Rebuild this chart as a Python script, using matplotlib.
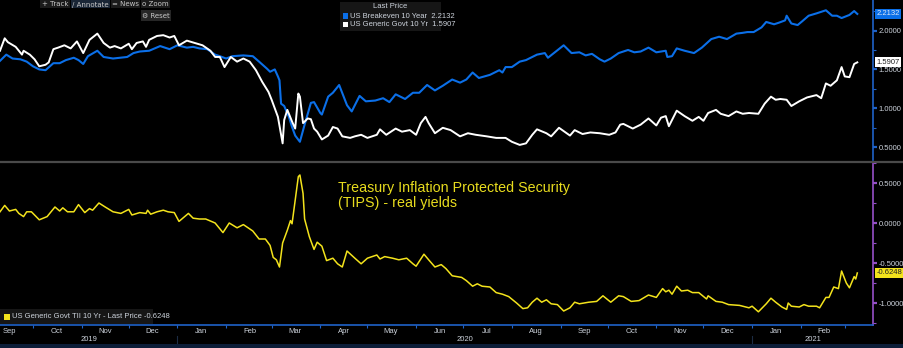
import matplotlib
matplotlib.use("Agg")
import matplotlib.pyplot as plt
import matplotlib.dates as mdates
import matplotlib.transforms as mtransforms
from matplotlib.ticker import MultipleLocator, NullFormatter, FormatStrFormatter, FuncFormatter
import pandas as pd

plt.rcParams['font.family'] = ['Liberation Sans Narrow', 'Liberation Sans', 'DejaVu Sans']

# series start date; day offsets below are counted from it
START = pd.Timestamp("2019-09-10")
END = pd.Timestamp("2021-03-19")

# US Breakeven 10 Year
BLUE_DAYS = [0, 4, 8, 13, 17, 21, 25, 29, 34, 38, 42, 47, 50, 53, 56, 62, 66, 72, 81, 85,
             89, 95, 102, 108, 113, 119, 123, 127, 132, 137, 140, 144, 148, 155, 161, 165, 170, 172, 175, 177,
             178, 179, 181, 184, 186, 188, 191, 194, 198, 200, 204, 205, 209, 212, 216, 221, 224, 229, 233, 239,
             244, 248, 252, 258, 263, 267, 272, 277, 282, 288, 293, 297, 301, 305, 312, 318, 320, 322, 326, 331,
             335, 342, 347, 349, 354, 359, 364, 369, 373, 377, 382, 385, 389, 394, 400, 404, 408, 413, 418, 424,
             425, 428, 431, 436, 442, 447, 453, 458, 463, 469, 473, 476, 480, 485, 488, 493, 496, 500, 501, 504,
             508, 511, 515, 520, 526, 530, 533, 536, 541, 544, 546]
BLUE_VALS = [1.61, 1.69, 1.64, 1.63, 1.60, 1.54, 1.50, 1.49, 1.58, 1.58, 1.62, 1.65, 1.62, 1.57, 1.67, 1.74, 1.66, 1.64, 1.66, 1.71,
             1.73, 1.74, 1.80, 1.76, 1.81, 1.78, 1.79, 1.77, 1.76, 1.69, 1.67, 1.64, 1.67, 1.68, 1.67, 1.60, 1.51, 1.47, 1.50, 1.41,
             1.36, 1.06, 1.03, 0.89, 0.76, 0.65, 0.57, 0.79, 1.07, 1.08, 0.94, 0.92, 1.15, 1.20, 1.30, 1.04, 0.96, 1.16, 1.09, 1.10,
             1.13, 1.08, 1.18, 1.12, 1.20, 1.20, 1.30, 1.23, 1.29, 1.37, 1.33, 1.37, 1.46, 1.39, 1.43, 1.49, 1.46, 1.53, 1.53, 1.60,
             1.62, 1.69, 1.71, 1.65, 1.73, 1.81, 1.71, 1.72, 1.68, 1.70, 1.63, 1.60, 1.64, 1.71, 1.75, 1.72, 1.73, 1.78, 1.72, 1.74,
             1.66, 1.67, 1.77, 1.74, 1.71, 1.78, 1.89, 1.92, 1.89, 1.96, 1.97, 1.98, 1.98, 2.04, 2.11, 2.08, 2.10, 2.13, 2.19, 2.09,
             2.07, 2.12, 2.19, 2.22, 2.26, 2.19, 2.19, 2.16, 2.20, 2.25, 2.2132]

# US Generic Govt 10 Yr
WHITE_DAYS = [0, 3, 5, 10, 14, 15, 19, 22, 25, 29, 31, 34, 37, 41, 45, 49, 53, 57, 62, 66,
              70, 73, 77, 82, 84, 87, 91, 93, 95, 100, 104, 108, 111, 114, 119, 124, 129, 134, 137, 140,
              143, 147, 151, 155, 159, 163, 167, 171, 173, 175, 177, 180, 181, 183, 186, 188, 190, 191, 193, 196,
              198, 200, 202, 205, 209, 212, 215, 218, 223, 226, 230, 234, 240, 242, 246, 252, 256, 261, 265, 268,
              271, 273, 277, 282, 287, 293, 298, 303, 310, 316, 322, 326, 331, 335, 339, 342, 348, 351, 356, 363,
              366, 371, 376, 382, 388, 392, 395, 397, 403, 408, 413, 418, 421, 424, 426, 431, 436, 441, 445, 448,
              451, 456, 459, 464, 469, 473, 477, 483, 487, 491, 494, 497, 501, 504, 509, 514, 520, 523, 526, 529,
              533, 536, 538, 541, 544, 546]
WHITE_VALS = [1.74, 1.90, 1.85, 1.79, 1.69, 1.74, 1.69, 1.63, 1.54, 1.56, 1.59, 1.76, 1.78, 1.81, 1.77, 1.86, 1.71, 1.88, 1.96, 1.84,
              1.78, 1.80, 1.77, 1.83, 1.76, 1.84, 1.86, 1.79, 1.88, 1.93, 1.94, 1.91, 1.93, 1.81, 1.87, 1.84, 1.81, 1.74, 1.66, 1.66,
              1.53, 1.66, 1.60, 1.64, 1.60, 1.49, 1.34, 1.21, 1.11, 1.00, 0.89, 0.55, 0.85, 0.98, 0.83, 0.74, 1.19, 1.15, 0.81, 0.87,
              0.86, 0.74, 0.70, 0.60, 0.65, 0.76, 0.74, 0.64, 0.62, 0.64, 0.66, 0.62, 0.66, 0.73, 0.66, 0.74, 0.70, 0.72, 0.66, 0.81,
              0.89, 0.81, 0.68, 0.75, 0.72, 0.64, 0.68, 0.66, 0.64, 0.62, 0.62, 0.57, 0.53, 0.55, 0.66, 0.73, 0.68, 0.64, 0.75, 0.65,
              0.72, 0.67, 0.69, 0.68, 0.66, 0.69, 0.79, 0.80, 0.74, 0.79, 0.87, 0.78, 0.88, 0.90, 0.77, 0.97, 0.90, 0.84, 0.89, 0.84,
              0.94, 0.98, 0.93, 0.90, 0.96, 0.93, 0.94, 0.93, 1.06, 1.15, 1.11, 1.12, 1.11, 1.03, 1.09, 1.14, 1.17, 1.13, 1.32, 1.29,
              1.36, 1.53, 1.41, 1.40, 1.57, 1.5907]

# US Generic Govt TII 10 Yr (real yield)
TIPS_DAYS = [0, 3, 6, 10, 12, 15, 17, 20, 25, 30, 35, 38, 40, 43, 47, 50, 54, 57, 59, 63,
             67, 72, 77, 82, 84, 89, 93, 94, 96, 100, 104, 107, 111, 114, 120, 123, 127, 131, 137, 142,
             146, 151, 155, 161, 165, 169, 172, 174, 176, 178, 180, 183, 185, 186, 188, 190, 191, 193, 194, 197,
             200, 202, 205, 208, 212, 215, 218, 221, 226, 230, 234, 240, 242, 245, 250, 254, 259, 263, 265, 270,
             273, 277, 281, 284, 288, 294, 297, 301, 304, 307, 312, 316, 320, 324, 329, 333, 336, 339, 342, 345,
             348, 351, 355, 359, 363, 366, 369, 375, 380, 384, 389, 394, 397, 402, 407, 413, 418, 422, 424, 426,
             428, 431, 434, 438, 441, 445, 450, 451, 456, 460, 464, 471, 477, 479, 483, 488, 491, 494, 498, 501,
             502, 504, 509, 512, 515, 520, 522, 526, 528, 531, 534, 536, 539, 541, 544, 545, 546]
TIPS_VALS = [0.14, 0.22, 0.15, 0.17, 0.12, 0.08, 0.14, 0.14, 0.04, 0.08, 0.20, 0.15, 0.19, 0.14, 0.14, 0.23, 0.13, 0.18, 0.16, 0.25,
             0.20, 0.14, 0.12, 0.17, 0.10, 0.13, 0.12, 0.16, 0.11, 0.14, 0.16, 0.14, 0.13, 0.02, 0.12, 0.06, 0.05, 0.05, 0.00, -0.12,
             0.00, -0.06, -0.02, -0.10, -0.20, -0.20, -0.28, -0.43, -0.46, -0.55, -0.25, -0.09, 0.03, -0.01, 0.29, 0.58, 0.60, 0.37, 0.05, -0.17,
             -0.33, -0.24, -0.29, -0.47, -0.44, -0.51, -0.55, -0.35, -0.44, -0.51, -0.44, -0.40, -0.45, -0.42, -0.44, -0.46, -0.44, -0.51, -0.54, -0.39,
             -0.46, -0.55, -0.52, -0.57, -0.66, -0.68, -0.72, -0.79, -0.76, -0.79, -0.80, -0.87, -0.89, -0.92, -1.00, -1.07, -1.06, -0.99, -0.94, -0.99,
             -0.96, -1.01, -1.02, -1.10, -1.06, -0.99, -1.01, -0.99, -0.98, -0.91, -0.99, -0.91, -0.92, -0.98, -0.97, -0.90, -0.93, -0.82, -0.86, -0.84,
             -0.89, -0.79, -0.85, -0.84, -0.87, -0.87, -0.95, -0.91, -0.98, -0.99, -1.02, -1.03, -1.06, -1.04, -1.11, -1.01, -0.94, -0.99, -1.05, -1.08,
             -1.00, -1.04, -1.05, -1.02, -1.04, -1.04, -1.06, -0.93, -0.93, -0.80, -0.82, -0.60, -0.75, -0.81, -0.67, -0.70, -0.6248]

BLUE = '#0b6fe8'
WHITE = '#ffffff'
YELLOW = '#f3e31c'
AXBLUE = '#1f62c8'
PURPLE = '#9650c8'
TXT = '#cdd3dc'

W, H = 904, 348


def px_rect(x0, y0, x1, y1):
    # pixel box (top-left origin) -> figure fraction rect
    return [x0 / W, 1 - y1 / H, (x1 - x0) / W, (y1 - y0) / H]


def to_dates(days):
    return START + pd.to_timedelta(days, unit='D')


last_day = to_dates(TIPS_DAYS)[-1]


def month_label(x, pos):
    # no month name past the last data point
    d = mdates.num2date(x).replace(tzinfo=None)
    return '' if d > last_day else d.strftime('%b')


fig = plt.figure(figsize=(W / 100, H / 100), dpi=100, facecolor='black')
ax1 = fig.add_axes(px_rect(0, 0, 873, 160), facecolor='black')
ax2 = fig.add_axes(px_rect(0, 163, 873, 325), facecolor='black', sharex=ax1)

ax1.plot(to_dates(WHITE_DAYS), WHITE_VALS, color=WHITE, lw=1.4, zorder=3)
ax1.plot(to_dates(BLUE_DAYS), BLUE_VALS, color=BLUE, lw=1.5, zorder=2)
ax2.plot(to_dates(TIPS_DAYS), TIPS_VALS, color=YELLOW, lw=1.1)

ax1.set_xlim(START, END)
ax1.set_ylim(0.336, 2.392)
ax2.set_ylim(-1.275, 0.75)

for ax, col in [(ax1, AXBLUE), (ax2, PURPLE)]:
    for s in ['left', 'top', 'bottom']:
        ax.spines[s].set_visible(False)
    ax.spines['right'].set_color(col)
    ax.spines['right'].set_linewidth(1.2)
    ax.yaxis.tick_right()
    ax.yaxis.set_major_locator(MultipleLocator(0.5))
    ax.yaxis.set_minor_locator(MultipleLocator(0.25))
    ax.yaxis.set_major_formatter(FormatStrFormatter('%.4f'))
    ax.tick_params(axis='y', which='major', length=3, width=1.6, color=col,
                   labelcolor=TXT, labelsize=5.5, pad=1)
    ax.tick_params(axis='y', which='minor', length=2, width=0.8, color=col)

ax2.spines['bottom'].set_visible(True)
ax2.spines['bottom'].set_color(AXBLUE)
ax2.spines['bottom'].set_linewidth(1.2)
ax1.tick_params(axis='x', which='both', bottom=False, labelbottom=False)

ax2.xaxis.set_major_locator(mdates.MonthLocator())
ax2.xaxis.set_major_formatter(NullFormatter())
ax2.xaxis.set_minor_locator(mdates.MonthLocator(bymonthday=16))
ax2.xaxis.set_minor_formatter(FuncFormatter(month_label))
ax2.tick_params(axis='x', which='major', length=2.5, width=0.8, color=AXBLUE)
ax2.tick_params(axis='x', which='minor', length=0, labelsize=5.5, labelcolor=TXT, pad=2)

# year labels centred on the visible part of each year
trans = mtransforms.blended_transform_factory(ax2.transData, ax2.transAxes)
for yr in [2019, 2020, 2021]:
    lo = max(START, pd.Timestamp(f"{yr}-01-01"))
    hi = min(END, pd.Timestamp(f"{yr + 1}-01-01"))
    ax2.text(lo + (hi - lo) / 2, -0.088, str(yr), transform=trans, ha='center', va='center',
             fontsize=5.5, color=TXT, clip_on=False)
    if yr > 2019:
        ax2.plot([pd.Timestamp(f"{yr}-01-01")] * 2, [-0.065, -0.12], transform=trans,
                 color='#1c2c44', lw=0.8, clip_on=False)

# separator between panels and bottom bar
fig.add_artist(plt.Line2D([0, 1], [1 - 161.5 / H] * 2, color='#4a4a4a', lw=1.6))
fig.add_artist(plt.Rectangle((0, 0), 1, 4 / H, color='#0c1d38', lw=0))

# last-price badges on the right axis
t1 = mtransforms.blended_transform_factory(ax1.transAxes, ax1.transData)
t2 = mtransforms.blended_transform_factory(ax2.transAxes, ax2.transData)
badge = dict(boxstyle='square,pad=0.18', lw=0)
ax1.text(1.004, BLUE_VALS[-1], f"{BLUE_VALS[-1]:.4f}", transform=t1, va='center', ha='left',
         fontsize=5.5, color='#dfe8f5', bbox=dict(badge, fc=BLUE), clip_on=False)
ax1.text(1.004, WHITE_VALS[-1], f"{WHITE_VALS[-1]:.4f}", transform=t1, va='center', ha='left',
         fontsize=5.5, color='#222222', bbox=dict(badge, fc=WHITE), clip_on=False)
ax2.text(1.004, TIPS_VALS[-1], f"{TIPS_VALS[-1]:.4f}", transform=t2, va='center', ha='left',
         fontsize=5.5, color='#222222', bbox=dict(badge, fc=YELLOW), clip_on=False)

# top legend box
fig.add_artist(plt.Rectangle((340 / W, 1 - 31 / H), 101 / W, 29 / H, color='#161616', lw=0))
fig.text(390 / W, 1 - 7 / H, "Last Price", ha='center', va='center', fontsize=5.5, color=TXT)
fig.add_artist(plt.Rectangle((343 / W, 1 - 18.5 / H), 5 / W, 5 / H, color=BLUE, lw=0))
fig.text(350 / W, 1 - 16 / H, f"US Breakeven 10 Year  {BLUE_VALS[-1]:.4f}", va='center',
         fontsize=5.5, color=TXT)
fig.add_artist(plt.Rectangle((343 / W, 1 - 27 / H), 5 / W, 5 / H, color=WHITE, lw=0))
fig.text(350 / W, 1 - 24.5 / H, f"US Generic Govt 10 Yr  {WHITE_VALS[-1]:.4f}", va='center',
         fontsize=5.5, color=TXT)

# bottom legend box
fig.add_artist(plt.Rectangle((0, 1 - 324 / H), 153 / W, 15 / H, color='#161616', lw=0))
fig.add_artist(plt.Rectangle((4 / W, 1 - 320 / H), 6 / W, 6 / H, color=YELLOW, lw=0))
fig.text(12 / W, 1 - 317 / H, f"US Generic Govt TII 10 Yr - Last Price {TIPS_VALS[-1]:.4f}",
         va='center', fontsize=5.5, color=TXT)

# toolbar buttons
for x0, x1, y0, y1, label, bg in [(40, 70, -4, 8, "+ Track", '#1b1b1b'),
                                  (71, 110, -4, 8, "/ Annotate", '#1a2636'),
                                  (111, 140, -4, 8, "= News", '#1b1b1b'),
                                  (141, 170, -4, 8, "o Zoom", '#1b1b1b'),
                                  (141, 171, 10, 21, "\u2699 Reset", '#262626')]:
    fig.add_artist(plt.Rectangle((x0 / W, 1 - y1 / H), (x1 - x0) / W, (y1 - y0) / H, color=bg, lw=0))
    fig.text((x0 + x1) / 2 / W, 1 - max(4.5, (y0 + y1) / 2) / H, label, ha='center', va='center',
             fontsize=5, color='#c8c8c8', family=['Liberation Sans Narrow', 'DejaVu Sans'])

# annotation
fig.text(338 / W, 1 - 181 / H, "Treasury Inflation Protected Security\n(TIPS) - real yields",
         ha='left', va='top', fontsize=10.3, color='#e8dc1e', linespacing=1.1,
         family=['Liberation Sans', 'DejaVu Sans'])

fig.savefig('out.png', dpi=100, facecolor='black')
